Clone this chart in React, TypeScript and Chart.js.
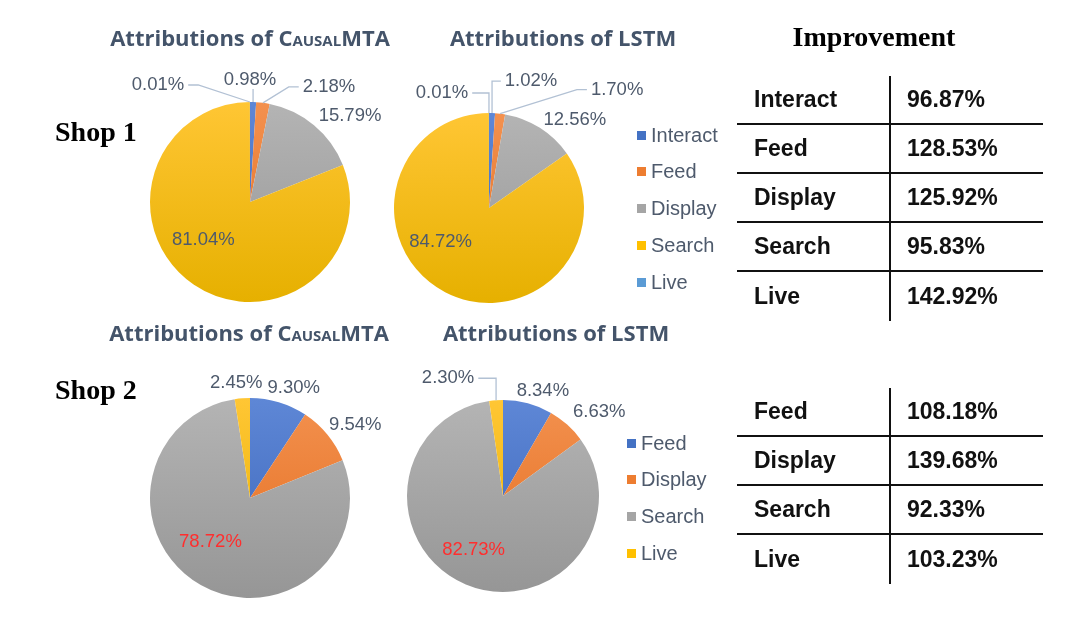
import React, { useEffect, useRef } from "react";
import { Chart, registerables } from "chart.js";

Chart.register(...registerables);

// ---------------- data ----------------
const shop1Categories = ["Interact", "Feed", "Display", "Search", "Live"];
const shop1CausalMTA = [0.98, 2.18, 15.79, 81.04, 0.01];
const shop1LSTM = [1.02, 1.7, 12.56, 84.72, 0.01];
const shop1Improvement = [96.87, 128.53, 125.92, 95.83, 142.92];

const shop2Categories = ["Feed", "Display", "Search", "Live"];
const shop2CausalMTA = [9.3, 9.54, 78.72, 2.45];
const shop2LSTM = [8.34, 6.63, 82.73, 2.3];
const shop2Improvement = [108.18, 139.68, 92.33, 103.23];

// ---------------- styles ----------------
const palette = [
  { base: "#4472C4", top: "#5E87D6", bottom: "#3A64B8" },
  { base: "#ED7D31", top: "#F3914F", bottom: "#E36C1D" },
  { base: "#A5A5A5", top: "#B4B4B4", bottom: "#969696" },
  { base: "#FFC000", top: "#FFC634", bottom: "#E6B000" },
  { base: "#5B9BD5", top: "#6AA6DC", bottom: "#4E8FCB" },
];
const TEXT = "#4E5A6C";
const RED = "#FF2E2E";
const LEADER = "#B2C1D4";
const LABEL_FONT = '18.5px "Liberation Sans", Arial, sans-serif';

type Placement = { k: number; dx: number; dy: number; leader?: string };

const place1C: Placement[] = [
  { k: 1, dx: -3, dy: -22, leader: "v" },
  { k: 1, dx: 66, dy: -16, leader: "hd-l" },
  { k: 1, dx: 36, dy: -9 },
  { k: 0.6, dx: -13, dy: -12 },
  { k: 1, dx: -92, dy: -17, leader: "hd-r" },
];
const place1L: Placement[] = [
  { k: 1, dx: 39, dy: -32, leader: "hv-l" },
  { k: 1, dx: 117, dy: -24, leader: "hd-l" },
  { k: 1, dx: 35, dy: -8 },
  { k: 0.6, dx: -22, dy: -17 },
  { k: 1, dx: -47, dy: -20, leader: "hv-r" },
];
const place2C: Placement[] = [
  { k: 1, dx: 15, dy: -14 },
  { k: 1, dx: 28, dy: -10 },
  { k: 0.6, dx: -10, dy: -8 },
  { k: 1, dx: -6, dy: -15 },
];
const place2L: Placement[] = [
  { k: 1, dx: 15, dy: -12 },
  { k: 1, dx: 32, dy: -13 },
  { k: 0.6, dx: -7, dy: 1 },
  { k: 1, dx: -48, dy: -22, leader: "hv-r" },
];

const PL = 130, PR = 150, PT = 60, PB = 10;

function makeLabelPlugin(placements: Placement[], colors: string[]) {
  return {
    id: "pieLabels",
    afterDatasetsDraw(chart: any) {
      const ctx = chart.ctx as CanvasRenderingContext2D;
      const meta = chart.getDatasetMeta(0);
      const values = chart.data.datasets[0].data as number[];
      ctx.save();
      ctx.font = LABEL_FONT;
      ctx.textAlign = "center";
      ctx.textBaseline = "middle";
      meta.data.forEach((arc: any, i: number) => {
        const p = placements[i];
        if (!p) return;
        const { x, y, startAngle, endAngle, outerRadius } = arc.getProps(
          ["x", "y", "startAngle", "endAngle", "outerRadius"],
          true
        );
        const mid = (startAngle + endAngle) / 2;
        const ex = x + Math.cos(mid) * outerRadius;
        const ey = y + Math.sin(mid) * outerRadius;
        const ax = x + Math.cos(mid) * outerRadius * p.k + p.dx;
        const ay = y + Math.sin(mid) * outerRadius * p.k + p.dy;
        const text = values[i].toFixed(2) + "%";
        const w = ctx.measureText(text).width;
        if (p.leader) {
          ctx.beginPath();
          ctx.strokeStyle = LEADER;
          ctx.lineWidth = 1.3;
          if (p.leader === "v") {
            ctx.moveTo(ex, ay + 9);
            ctx.lineTo(ex, ey);
          } else if (p.leader === "hv-r" || p.leader === "hv-l") {
            const sx = p.leader === "hv-r" ? ax + w / 2 + 4 : ax - w / 2 - 4;
            ctx.moveTo(sx, ay);
            ctx.lineTo(ex, ay);
            ctx.lineTo(ex, ey);
          } else {
            const right = p.leader === "hd-r";
            const sx = right ? ax + w / 2 + 4 : ax - w / 2 - 4;
            ctx.moveTo(sx, ay);
            ctx.lineTo(sx + (right ? 10 : -10), ay);
            ctx.lineTo(ex, ey);
          }
          ctx.stroke();
        }
        ctx.fillStyle = colors[i] || TEXT;
        ctx.fillText(text, ax, ay);
      });
      ctx.restore();
    },
  };
}

function PieChart(props: {
  labels: string[];
  values: number[];
  cx: number;
  cy: number;
  r: number;
  placements: Placement[];
  labelColors: string[];
}) {
  const { labels, values, cx, cy, r, placements, labelColors } = props;
  const ref = useRef<HTMLCanvasElement>(null);
  const W = 2 * r + PL + PR;
  const H = 2 * r + PT + PB;
  useEffect(() => {
    if (!ref.current) return;
    const chart = new Chart(ref.current, {
      type: "pie",
      data: {
        labels,
        datasets: [
          {
            data: values,
            backgroundColor: (c: any) => {
              const pal = palette[c.dataIndex % palette.length];
              const area = c.chart.chartArea;
              if (!area) return pal.base;
              const g = c.chart.ctx.createLinearGradient(0, area.top, 0, area.bottom);
              g.addColorStop(0, pal.top);
              g.addColorStop(1, pal.bottom);
              return g;
            },
            borderWidth: 0,
            hoverOffset: 0,
            offset: 0,
          } as any,
        ],
      },
      options: {
        animation: false,
        responsive: false,
        devicePixelRatio: 1,
        events: [],
        layout: { padding: { left: PL, right: PR, top: PT, bottom: PB } },
        plugins: { legend: { display: false }, tooltip: { enabled: false }, title: { display: false } },
      } as any,
      plugins: [makeLabelPlugin(placements, labelColors) as any],
    });
    return () => chart.destroy();
  }, []);
  return (
    <canvas
      ref={ref}
      width={W}
      height={H}
      style={{ position: "absolute", left: cx - r - PL, top: cy - r - PT, width: W, height: H }}
    />
  );
}

function Title({ model, cx, top }: { model: string; cx: number; top: number }) {
  return (
    <div
      style={{
        position: "absolute",
        left: cx - 200,
        width: 400,
        top,
        textAlign: "center",
        fontFamily: '"Open Sans", sans-serif',
        fontWeight: 700,
        fontSize: 22,
        lineHeight: "22px",
        color: "#44546A",
        whiteSpace: "nowrap",
      }}
    >
      Attributions of{" "}
      {model === "CausalMTA" ? (
        <>
          <span style={{ fontVariant: "small-caps" }}>Causal</span>MTA
        </>
      ) : (
        model
      )}
    </div>
  );
}

function Legend({ items, left, firstY, step }: { items: string[]; left: number; firstY: number; step: number }) {
  return (
    <>
      {items.map((name, i) => (
        <div
          key={name}
          style={{
            position: "absolute",
            left,
            top: firstY + i * step - 12,
            height: 24,
            display: "flex",
            alignItems: "center",
            fontFamily: '"Liberation Sans", Arial, sans-serif',
            fontSize: 20,
            color: TEXT,
            whiteSpace: "nowrap",
          }}
        >
          <span
            style={{
              display: "inline-block",
              width: 9,
              height: 9,
              background: palette[i].base,
              marginRight: 5,
            }}
          />
          {name}
        </div>
      ))}
    </>
  );
}

function ImprovementTable({
  categories,
  values,
  left,
  top,
  rowH,
}: {
  categories: string[];
  values: number[];
  left: number;
  top: number;
  rowH: number;
}) {
  const width = 306;
  const split = 153;
  return (
    <div style={{ position: "absolute", left, top, width, height: rowH * categories.length }}>
      {categories.map((c, i) => (
        <div
          key={c}
          style={{
            position: "absolute",
            left: 0,
            top: i * rowH,
            width,
            height: rowH,
            boxSizing: "border-box",
            borderBottom: i < categories.length - 1 ? "2px solid #111" : "none",
            display: "flex",
            alignItems: "center",
            fontFamily: '"Liberation Sans", Arial, sans-serif',
            fontWeight: 700,
            fontSize: 23,
            color: "#111",
          }}
        >
          <span style={{ position: "absolute", left: 17 }}>{c}</span>
          <span style={{ position: "absolute", left: split + 17 }}>{values[i].toFixed(2)}%</span>
        </div>
      ))}
      <div
        style={{
          position: "absolute",
          left: split - 1,
          top: 0,
          width: 2,
          height: rowH * categories.length,
          background: "#111",
        }}
      />
    </div>
  );
}

const serifLabel: React.CSSProperties = {
  position: "absolute",
  fontFamily: '"Liberation Serif", "Times New Roman", serif',
  fontWeight: 700,
  fontSize: 28,
  lineHeight: "28px",
  color: "#000",
  whiteSpace: "nowrap",
};

export default function App() {
  return (
    <div
      style={{
        position: "fixed",
        left: 0,
        top: 0,
        width: 1080,
        height: 639,
        background: "#fff",
        overflow: "hidden",
      }}
    >
      <PieChart labels={shop1Categories} values={shop1CausalMTA} cx={250} cy={202} r={100} placements={place1C} labelColors={[TEXT, TEXT, TEXT, TEXT, TEXT]} />
      <PieChart labels={shop1Categories} values={shop1LSTM} cx={489} cy={208} r={95} placements={place1L} labelColors={[TEXT, TEXT, TEXT, TEXT, TEXT]} />
      <PieChart labels={shop2Categories} values={shop2CausalMTA} cx={250} cy={498} r={100} placements={place2C} labelColors={[TEXT, TEXT, RED, TEXT]} />
      <PieChart labels={shop2Categories} values={shop2LSTM} cx={503} cy={496} r={96} placements={place2L} labelColors={[TEXT, TEXT, RED, TEXT]} />

      <Title model="CausalMTA" cx={250} top={26} />
      <Title model="LSTM" cx={563} top={26} />
      <Title model="CausalMTA" cx={249} top={321} />
      <Title model="LSTM" cx={556} top={321} />

      <div style={{ ...serifLabel, left: 55, top: 118 }}>Shop 1</div>
      <div style={{ ...serifLabel, left: 55, top: 376 }}>Shop 2</div>
      <div style={{ ...serifLabel, left: 674, width: 400, textAlign: "center", top: 23 }}>Improvement</div>

      <Legend items={shop1Categories} left={637} firstY={135} step={36.8} />
      <Legend items={shop2Categories} left={627} firstY={443} step={36.7} />

      <ImprovementTable categories={shop1Categories} values={shop1Improvement} left={737} top={76} rowH={49} />
      <ImprovementTable categories={shop2Categories} values={shop2Improvement} left={737} top={388} rowH={49} />
    </div>
  );
}
